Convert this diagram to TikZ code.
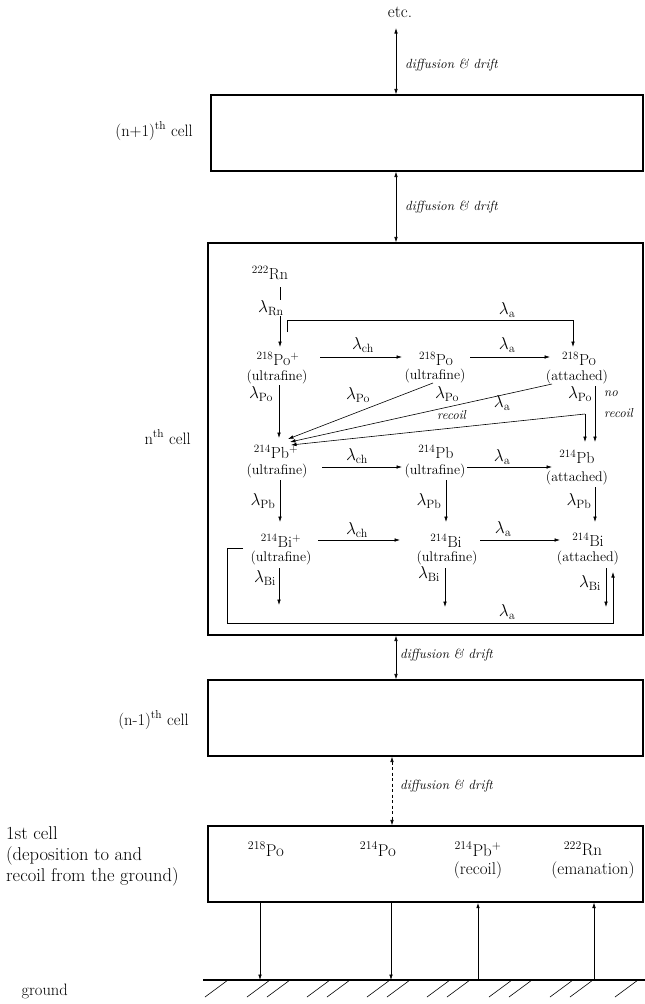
\documentclass[tikz,border=0pt]{standalone}
\usetikzlibrary{arrows.meta}
\begin{document}
\begin{tikzpicture}[x=1pt,y=-1pt,
  every node/.style={font=\fontsize{16}{19}\selectfont, inner sep=0pt},
  cell/.style={draw, line width=1.1pt, inner sep=0pt},
  arr/.style={-{Latex[length=5.5pt,width=3.6pt]}, line width=0.6pt},
  darr/.style={{Latex[length=5.5pt,width=3.6pt]}-{Latex[length=5.5pt,width=3.6pt]}, line width=0.7pt},
  dd/.style={font=\fontsize{13.3}{15}\selectfont\itshape, anchor=west},
  lbl/.style={font=\fontsize{16.5}{20}\selectfont},
  st/.style={font=\fontsize{14}{16}\selectfont},
  gs/.style={font=\fontsize{17}{20}\selectfont},
  lam/.style={font=\fontsize{17}{20}\selectfont},
  itl/.style={font=\fontsize{13}{15}\selectfont\itshape, anchor=west},
  wlam/.style={lam, fill=white, inner sep=1pt}]
\useasboundingbox (0,0) rectangle (645,1004);

% ---------- cells ----------
\node[cell, minimum width=432pt, minimum height=76pt] (c1) at (427,133) {};
\node[cell, minimum width=435pt, minimum height=392pt] (cn) at (425.5,439) {};
\node[cell, minimum width=435pt, minimum height=76pt] (cm) at (425.5,718) {};
\node[cell, minimum width=435pt, minimum height=76pt] (cg) at (425.5,864) {};

% ---------- left labels ----------
\node[lbl, anchor=east] (l1) at (193,131) {(n+1)\textsuperscript{th} cell};
\node[lbl, anchor=east] (ln) at (191,437) {n\textsuperscript{th} cell};
\node[lbl, anchor=east] (lm) at (189,720) {(n-1)\textsuperscript{th} cell};
\node[anchor=north west, align=left, font=\fontsize{18.5}{21}\selectfont] (lg) at (6,826) {1st cell\\(deposition to and\\recoil from the ground)};
\node[lbl, anchor=east] (gr) at (68,991) {ground};

% ---------- inter-cell transport ----------
\node[gs] (etc) at (400,12) {etc.};
\coordinate (e1) at (396,28);
\coordinate (e2) at (392,0);
\draw[darr] (e1) -- (e1 |- c1.north);
\node[dd] (d1) at (405,65) {diffusion \& drift};
\draw[darr] (c1.south -| e1) -- (cn.north -| e1);
\node[dd] (d2) at (405,207) {diffusion \& drift};
\draw[darr] (cn.south -| e1) -- (cm.north -| e1);
\node[dd] (d3) at (400,655) {diffusion \& drift};
\draw[darr, dash pattern=on 3pt off 2.5pt] (cm.south -| e2) -- (cg.north -| e2);
\node[dd] (d4) at (400,786) {diffusion \& drift};

% ---------- ground ----------
\coordinate (g0) at (203,980);
\coordinate (g1) at (645,980);
\draw[line width=1.1pt] (g0) -- (g1);
\foreach \x in {228,270,290,330,350,390,410,450,470,512,532,573,593,638}
  \draw[line width=0.6pt] (\x,980) -- ++(-23,17);

% ---------- 1st cell ----------
\node[gs] (g218) at (266,849) {\textsuperscript{218}Po};
\node[gs] (g214) at (378,849) {\textsuperscript{214}Po};
\node[gs] (gpb) at (478,849) {\textsuperscript{214}Pb\textsuperscript{+}};
\node[gs] (gpbr) at (478,870) {(recoil)};
\node[gs] (grn) at (583,849) {\textsuperscript{222}Rn};
\node[gs] (grne) at (593,870) {(emanation)};
\coordinate (a1) at (260,980);
\coordinate (a2) at (391,980);
\coordinate (a3) at (478,980);
\coordinate (a4) at (594,980);
\draw[arr] (a1 |- cg.south) -- (a1);
\draw[arr] (a2 |- cg.south) -- (a2);
\draw[arr, line width=1pt] (a3) -- (a3 |- cg.south);
\draw[arr] (a4) -- (a4 |- cg.south);

% ---------- nth cell: species ----------
\node (rn) at (270,273) {\textsuperscript{222}Rn};
\node (po8p) at (278,359) {\textsuperscript{218}Po\textsuperscript{+}};
\node[st] (po8pu) at (277,377) {(ultrafine)};
\node (po8) at (436,359) {\textsuperscript{218}Po};
\node[st] (po8u) at (435,376) {(ultrafine)};
\node (po8a) at (579,359) {\textsuperscript{218}Po};
\node[st] (po8aa) at (577,377) {(attached)};
\node (pb4p) at (276,452) {\textsuperscript{214}Pb\textsuperscript{+}};
\node[st] (pb4pu) at (277,471) {(ultrafine)};
\node (pb4) at (436,452) {\textsuperscript{214}Pb};
\node[st] (pb4u) at (435,471) {(ultrafine)};
\node (pb4a) at (577,457) {\textsuperscript{214}Pb};
\node[st] (pb4aa) at (577,478) {(attached)};
\node (bi4p) at (281,541) {\textsuperscript{214}Bi\textsuperscript{+}};
\node[st] (bi4pu) at (281,558) {(ultrafine)};
\node (bi4) at (446,541) {\textsuperscript{214}Bi};
\node[st] (bi4u) at (447,558) {(ultrafine)};
\node (bi4a) at (588,540) {\textsuperscript{214}Bi};
\node[st] (bi4aa) at (588,558) {(attached)};

% ---------- nth cell: transitions ----------
% radon decay
\coordinate (r1) at (280,287);
\coordinate (r2) at (280,347);
\draw[arr] (r1) -- (r2);
\node[wlam] (lrn) at (271,308) {$\lambda_{\mathrm{Rn}}$};
% attachment of 218Po+
\coordinate (t1) at (287,332);
\coordinate (t2) at (287,320);
\coordinate (t3) at (573,320);
\coordinate (t4) at (573,347);
\draw[arr] (t1) -- (t2) -- (t3) -- (t4);
\node[lam] (la0) at (507,310) {$\lambda_{\mathrm{a}}$};
% row 218Po
\coordinate (p1) at (320,357); \coordinate (p2) at (402,357);
\draw[arr] (p1) -- (p2);
\node[lam] (lch1) at (363,345) {$\lambda_{\mathrm{ch}}$};
\coordinate (p3) at (470,357); \coordinate (p4) at (550,357);
\draw[arr] (p3) -- (p4);
\node[lam] (la1) at (507,345) {$\lambda_{\mathrm{a}}$};
% 218Po decays
\coordinate (q1) at (279,385); \coordinate (q2) at (279,438);
\draw[arr] (q1) -- (q2);
\node[lam] (lpo1) at (261,394) {$\lambda_{\mathrm{Po}}$};
\coordinate (q3) at (433,383); \coordinate (q4) at (288,439);
\draw[arr] (q3) -- (q4);
\node[lam] (lpo2) at (358,395) {$\lambda_{\mathrm{Po}}$};
\coordinate (q5) at (552,384); \coordinate (q6) at (290,442);
\draw[arr] (q5) -- (q6);
\node[lam] (lpo3) at (447,394) {$\lambda_{\mathrm{Po}}$};
\node[itl] (rc1) at (437,415) {recoil};
\coordinate (q7) at (585,414); \coordinate (q8) at (585,442); \coordinate (q9) at (291,445);
\draw[arr] (q7) -- (q8);
\draw[arr] (q7) -- (q9);
\node[lam] (la2) at (502,403) {$\lambda_{\mathrm{a}}$};
\coordinate (q10) at (595,386); \coordinate (q11) at (595,442);
\draw[arr] (q10) -- (q11);
\node[lam] (lpo4) at (580,394) {$\lambda_{\mathrm{Po}}$};
\node[itl] (nr1) at (604,394) {no};
\node[itl] (nr2) at (604,413) {recoil};
% row 214Pb
\coordinate (s1) at (322,467); \coordinate (s2) at (402,467);
\draw[arr] (s1) -- (s2);
\node[lam] (lch2) at (357,456) {$\lambda_{\mathrm{ch}}$};
\coordinate (s3) at (467,467); \coordinate (s4) at (552,467);
\draw[arr] (s3) -- (s4);
\node[lam] (la3) at (502,457) {$\lambda_{\mathrm{a}}$};
% 214Pb decays
\coordinate (u1) at (280,480); \coordinate (u2) at (280,522);
\draw[arr] (u1) -- (u2);
\node[lam] (lpb1) at (263,501) {$\lambda_{\mathrm{Pb}}$};
\coordinate (u3) at (446,480); \coordinate (u4) at (446,522);
\draw[arr] (u3) -- (u4);
\node[lam] (lpb2) at (429,501) {$\lambda_{\mathrm{Pb}}$};
\coordinate (u5) at (595,487); \coordinate (u6) at (595,522);
\draw[arr] (u5) -- (u6);
\node[lam] (lpb3) at (579,501) {$\lambda_{\mathrm{Pb}}$};
% row 214Bi
\coordinate (v1) at (318,540); \coordinate (v2) at (400,540);
\draw[arr] (v1) -- (v2);
\node[lam] (lch3) at (357,530) {$\lambda_{\mathrm{ch}}$};
\coordinate (v3) at (480,540); \coordinate (v4) at (560,540);
\draw[arr] (v3) -- (v4);
\node[lam] (la4) at (503,529) {$\lambda_{\mathrm{a}}$};
% 214Bi decays
\coordinate (w1) at (279,568); \coordinate (w2) at (279,605);
\draw[arr] (w1) -- (w2);
\node[lam] (lbi1) at (265,578) {$\lambda_{\mathrm{Bi}}$};
\coordinate (w3) at (445,568); \coordinate (w4) at (445,607);
\draw[arr] (w3) -- (w4);
\node[lam] (lbi2) at (429,574) {$\lambda_{\mathrm{Bi}}$};
\coordinate (w5) at (606,568); \coordinate (w6) at (606,607);
\draw[arr] (w5) -- (w6);
\node[lam] (lbi3) at (590,583) {$\lambda_{\mathrm{Bi}}$};
% attachment loop of 214Bi+
\coordinate (b1) at (243,548); \coordinate (b2) at (227,548);
\coordinate (b3) at (227,623); \coordinate (b4) at (613,623);
\coordinate (b5) at (613,572);
\draw[arr] (b1) -- (b2) -- (b3) -- (b4) -- (b5);
\node[lam] (la5) at (507,612) {$\lambda_{\mathrm{a}}$};
\end{tikzpicture}
\end{document}
